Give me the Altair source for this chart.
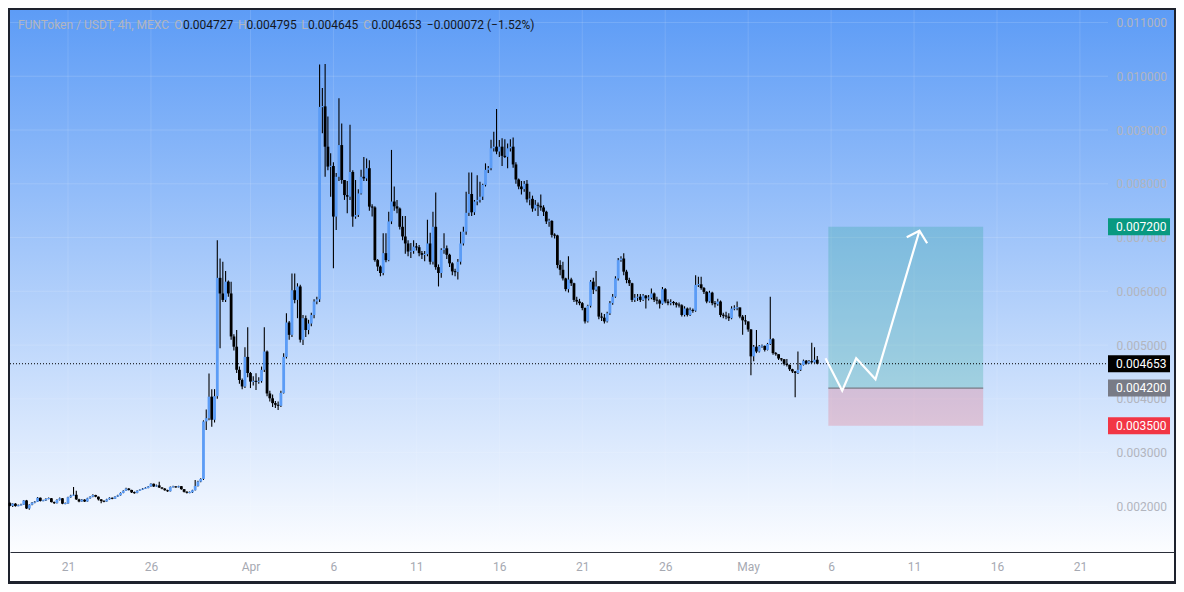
import altair as alt
import pandas as pd

# ---------------- data (prices in millionths of USDT) ----------------
OPEN0 = 2060
CLOSE = [
    2010, 2050, 2005, 2020, 2030, 2110, 1960, 2030, 2070, 2085,
    2160, 2100, 2110, 2140, 2150, 2080, 2060, 2120, 2150, 2050,
    2055, 2170, 2200, 2215, 2130, 2090, 2125, 2090, 2150, 2180,
    2210, 2180, 2130, 2100, 2090, 2130, 2160, 2140, 2180, 2205,
    2250, 2290, 2330, 2305, 2260, 2250, 2290, 2310, 2330, 2340,
    2370, 2420, 2370, 2390, 2350, 2330, 2300, 2280, 2360, 2370,
    2355, 2375, 2320, 2270, 2255, 2260, 2300, 2380, 2460, 2510,
    3580, 3640, 4040, 3610, 4050, 6250, 5960, 5840, 6180, 5960,
    5160, 4970, 4540, 4350, 4230, 4780, 4480, 4320, 4330, 4320,
    4330, 4540, 4880, 4100, 4010, 3920, 3890, 3870, 4110, 4780,
    5420, 5190, 6020, 5840, 6090, 5100, 5500, 5280, 5400, 5560,
    5810, 5850, 9430, 9440, 8690, 8320, 8330, 7390, 8130, 8720,
    8070, 7790, 7760, 8220, 7390, 7420, 7820, 8130, 8100, 8290,
    7575, 7560, 6580, 6460, 6340, 6710, 6580, 7300, 7670, 7580,
    7540, 7200, 7020, 6890, 6740, 6750, 6830, 6820, 6710, 6680,
    6690, 6890, 6550, 7200, 6450, 6340, 6770, 6800, 6680, 6520,
    6370, 6360, 6550, 6890, 7110, 7460, 7810, 7470, 7670, 7700,
    7760, 7980, 8260, 8290, 8660, 8690, 8600, 8690, 8520, 8500,
    8660, 8690, 8360, 8080, 7950, 7900, 8000, 7710, 7720, 7540,
    7610, 7590, 7560, 7480, 7300, 7310, 7050, 7040, 6490, 6400,
    6240, 6040, 6220, 6150, 5840, 5810, 5780, 5690, 5440, 5730,
    6180, 6030, 6090, 5530, 5510, 5440, 5590, 5780, 5900, 6240,
    6580, 6610, 6366, 6210, 6150, 5840, 5880, 5900, 5840, 5920,
    5870, 5880, 5960, 5840, 5830, 5770, 6040, 5810, 5780, 5800,
    5780, 5750, 5740, 5560, 5680, 5560, 5650, 5640, 6120, 6130,
    6060, 5990, 5810, 5975, 5780, 5760, 5810, 5560, 5550, 5530,
    5500, 5680, 5690, 5700, 5530, 5460, 5440, 5290, 4790, 4970,
    4880, 4980, 4985, 4910, 5020, 5110, 4850, 4830, 4750, 4735,
    4650, 4630, 4550, 4510, 4480, 4540, 4630, 4710, 4660, 4700,
    4680, 4727, 4653,
]
HIGH = [
    2075, 2060, 2060, 2035, 2050, 2120, 2120, 2040, 2080, 2100,
    2175, 2165, 2125, 2150, 2165, 2155, 2090, 2130, 2165, 2155,
    2070, 2180, 2215, 2360, 2290, 2140, 2135, 2130, 2160, 2190,
    2225, 2215, 2185, 2135, 2110, 2140, 2170, 2165, 2190, 2215,
    2260, 2300, 2345, 2340, 2310, 2275, 2300, 2320, 2340, 2355,
    2380, 2430, 2425, 2405, 2460, 2360, 2340, 2310, 2370, 2385,
    2375, 2385, 2380, 2325, 2280, 2275, 2310, 2490, 2475, 2525,
    3600, 3800, 4470, 4180, 4180, 6950, 6610, 6550, 6380, 6200,
    6180, 5200, 5280, 4600, 4380, 4960, 5330, 4500, 4420, 4475,
    4400, 4600, 5330, 4900, 4150, 4080, 3960, 3950, 4150, 4850,
    5590, 5450, 6330, 6330, 6150, 6120, 5560, 5550, 5470, 5600,
    5850, 5900, 10220, 9780, 10230, 9250, 8570, 8400, 8200, 9590,
    9120, 8050, 8050, 9100, 8250, 8070, 7900, 8260, 8500, 8470,
    8440, 7620, 7580, 6600, 6480, 7080, 7080, 7480, 8630, 7950,
    7700, 7560, 7400, 7400, 6950, 6900, 6950, 6900, 6860, 6750,
    6750, 7330, 7090, 7480, 7840, 6500, 6800, 7080, 6850, 6700,
    6540, 6420, 6600, 7110, 7200, 7850, 8210, 8210, 7700, 8160,
    8040, 8000, 8380, 8330, 8820, 8970, 9390, 8815, 8845, 8830,
    8750, 8830, 8860, 8400, 8100, 8050, 8050, 8070, 7850, 7780,
    7700, 7650, 7800, 7600, 7500, 7350, 7320, 7080, 7050, 6580,
    6550, 6250, 6650, 6250, 6160, 5900, 5860, 5800, 5700, 5750,
    6210, 6250, 6380, 6100, 5600, 5580, 5620, 5820, 5950, 6280,
    6620, 6650, 6710, 6400, 6250, 6160, 5950, 5950, 5950, 5950,
    5930, 5930, 6050, 5980, 5900, 5850, 6080, 6060, 5850, 5850,
    5820, 5800, 5790, 5760, 5720, 5700, 5700, 5680, 6300, 6270,
    6270, 6080, 6000, 6010, 5990, 5820, 5860, 5830, 5600, 5620,
    5590, 5720, 5740, 5810, 5700, 5560, 5560, 5440, 5300, 5000,
    5280, 5000, 5010, 4990, 5040, 5900, 5130, 4870, 4830, 4760,
    4740, 4740, 4640, 4560, 4520, 4880, 4660, 4730, 4720, 4720,
    5045, 4960, 4795,
]
LOW = [
    2000, 1990, 1995, 2000, 2015, 2025, 1950, 1935, 2020, 2060,
    2080, 2090, 2095, 2100, 2130, 2070, 2045, 2055, 2110, 2040,
    2040, 2050, 2160, 2195, 2120, 2075, 2085, 2080, 2085, 2140,
    2170, 2170, 2110, 2060, 2075, 2085, 2125, 2130, 2135, 2175,
    2200, 2245, 2285, 2295, 2250, 2235, 2245, 2285, 2305, 2325,
    2335, 2365, 2360, 2365, 2340, 2320, 2290, 2270, 2275, 2350,
    2345, 2350, 2310, 2260, 2240, 2245, 2250, 2295, 2370, 2450,
    2490, 3420, 3600, 3480, 3560, 4000, 4940, 5800, 5800, 5900,
    5100, 4900, 4480, 4280, 4180, 4200, 4400, 4200, 4250, 4165,
    4280, 4300, 4500, 4050, 3950, 3850, 3830, 3790, 3850, 4100,
    4750, 5100, 5150, 5780, 5500, 5050, 5000, 5150, 5200, 5350,
    5500, 5760, 5800, 8940, 8130, 8250, 7760, 6430, 7140, 8050,
    8000, 7700, 7450, 7700, 7200, 7350, 7380, 7800, 8050, 8050,
    7500, 7390, 6550, 6380, 6280, 6300, 6540, 6560, 7250, 7500,
    7450, 7150, 6950, 6700, 6650, 6620, 6700, 6760, 6650, 6600,
    6560, 6650, 6500, 6500, 6400, 6090, 6250, 6700, 6600, 6450,
    6300, 6280, 6220, 6500, 6850, 7050, 7400, 7400, 7420, 7600,
    7650, 7700, 7950, 8200, 8250, 8600, 8550, 8500, 8330, 8480,
    8290, 8600, 8300, 8000, 7900, 7800, 7850, 7650, 7600, 7480,
    7500, 7400, 7500, 7400, 7250, 7200, 7000, 6980, 6430, 6300,
    6200, 6000, 5980, 6100, 5800, 5750, 5740, 5650, 5400, 5420,
    5700, 5950, 6000, 5480, 5450, 5400, 5420, 5560, 5750, 5880,
    6200, 6550, 6300, 6150, 6100, 5800, 5800, 5820, 5800, 5820,
    5680, 5830, 5850, 5800, 5760, 5680, 5750, 5780, 5740, 5740,
    5740, 5700, 5700, 5530, 5530, 5530, 5540, 5600, 5620, 6080,
    6030, 5950, 5780, 5790, 5740, 5700, 5730, 5520, 5500, 5480,
    5450, 5480, 5650, 5650, 5500, 5190, 5380, 5250, 4440, 4700,
    4850, 4860, 4950, 4880, 4900, 5000, 4820, 4800, 4720, 4700,
    4620, 4600, 4520, 4480, 4030, 4460, 4520, 4620, 4640, 4650,
    4660, 4670, 4645,
]
LAST_BAR = "2025-05-05T04:00:00Z"      # 4h candles, last one
BAR_HOURS = 4

PRICE_TICKS = [0.002, 0.003, 0.004, 0.005, 0.006, 0.007, 0.008, 0.009, 0.010, 0.011]
DAY_TICKS = ["2025-03-21", "2025-03-26", "2025-04-01", "2025-04-06", "2025-04-11",
             "2025-04-16", "2025-04-21", "2025-04-26", "2025-05-01", "2025-05-06",
             "2025-05-11", "2025-05-16", "2025-05-21"]
X_DOMAIN = ["2025-03-17T12:06:00Z", "2025-05-26T16:04:00Z"]
Y_DOMAIN = [0.001151, 0.0112325]

POS_START, POS_END = "2025-05-05T20:00:00Z", "2025-05-15T04:00:00Z"
TARGET, ENTRY, STOP = 0.0072, 0.0042, 0.0035
LAST_PRICE = 0.004653

ARROW_T = ["2025-05-05T15:55:00Z", "2025-05-06T16:03:00Z", "2025-05-07T12:17:00Z",
           "2025-05-08T16:12:00Z", "2025-05-11T07:48:00Z"]
ARROW_P = [0.004754, 0.004151, 0.004754, 0.004364, 0.007127]
HEAD_T = ["2025-05-10T13:26:00Z", "2025-05-11T07:48:00Z", "2025-05-11T18:56:00Z"]
HEAD_P = [0.007005, 0.007127, 0.006893]

TAG_P = [0.0072, 0.004653, 0.0042, 0.0035]
TAG_TXT = ["0.007200", "0.004653", "0.004200", "0.003500"]
TAG_COL = ["#089981", "#000000", "#787b86", "#f23645"]

HEADER = [("FUNToken / USDT, 4h, MEXC", 7.9, "#b2b5be"),
          ("O", 164.3, "#b2b5be"), ("0.004727", 172.9, "#131722"),
          ("H", 227.9, "#b2b5be"), ("0.004795", 236.4, "#131722"),
          ("L", 291.2, "#b2b5be"), ("0.004645", 297.9, "#131722"),
          ("C", 353.3, "#b2b5be"), ("0.004653", 361.4, "#131722"),
          ("\u22120.000072 (\u22121.52%)", 416.8, "#131722")]

UP_COL, DOWN_COL = "#5b9cf6", "#000000"
FONT = "Roboto"
W, H = 1164, 542


def ms(s):
    return int(pd.Timestamp(s).value // 10**6)


# ---------------- tables ----------------
n = len(CLOSE)
end_ms = ms(LAST_BAR)
step = BAR_HOURS * 3600 * 1000
opens = [OPEN0] + CLOSE[:-1]
rows = []
for i in range(n):
    o, c = opens[i], CLOSE[i]
    hi_b, lo_b = max(o, c), min(o, c)
    if hi_b - lo_b < 20:
        mid = (hi_b + lo_b) / 2
        hi_b, lo_b = mid + 10, mid - 10
    rows.append({
        "t": end_ms - (n - 1 - i) * step,
        "o": o / 1e6, "c": c / 1e6,
        "h": max(HIGH[i], o, c) / 1e6, "l": min(LOW[i], o, c) / 1e6,
        "lo": lo_b / 1e6, "hi": hi_b / 1e6,
        "col": UP_COL if c >= o else DOWN_COL,
    })
candles = pd.DataFrame(rows)

xscale = alt.Scale(type="utc", domain=[ms(d) for d in X_DOMAIN], nice=False)
yscale = alt.Scale(domain=Y_DOMAIN, nice=False, zero=False)
xaxis = alt.Axis(values=[ms(d) for d in DAY_TICKS],
                 labelExpr="utcdate(datum.value) == 1 ? utcFormat(datum.value, '%b') : utcFormat(datum.value, '%-d')",
                 ticks=False, grid=False, domainColor="#2a2e39", domainWidth=1,
                 labelColor="#a6a9b2", labelFont=FONT, labelFontSize=12, labelPadding=9,
                 labelFlush=False, labelOverlap=False, title=None, zindex=1)
yaxis = alt.Axis(values=PRICE_TICKS, format=".6f", orient="right", offset=-66,
                 ticks=False, domain=False, grid=False, labelColor="#b2b5be",
                 labelFont=FONT, labelFontSize=12, labelPadding=8, labelFlush=False,
                 title=None, zindex=0)


def X(f):
    return alt.X(f, type="temporal", scale=xscale, axis=xaxis)


def Y(f):
    return alt.Y(f, type="quantitative", scale=yscale, axis=yaxis)


one = pd.DataFrame({"a": [0]})
layers = []

# time-axis strip (white)
layers.append(alt.Chart(one).mark_rect(color="#ffffff").encode(
    x=alt.value(0), x2=alt.value(W), y=alt.value(H), y2=alt.value(H + 29)))

# grid
layers.append(alt.Chart(pd.DataFrame({"p": PRICE_TICKS})).mark_rule(
    color="#ffffff", opacity=0.14, strokeWidth=1).encode(
    y=Y("p"), x=alt.value(0), x2=alt.value(1098)))
layers.append(alt.Chart(pd.DataFrame({"d": [ms(d) for d in DAY_TICKS]})).mark_rule(
    color="#ffffff", opacity=0.12, strokeWidth=1).encode(
    x=X("d"), y=alt.value(0), y2=alt.value(H)))

# long-position tool
pos = pd.DataFrame({"t0": [ms(POS_START)] * 2, "t1": [ms(POS_END)] * 2,
                    "p0": [ENTRY, STOP], "p1": [TARGET, ENTRY],
                    "col": ["#089981", "#f23645"], "op": [0.22, 0.2]})
layers.append(alt.Chart(pos).mark_rect().encode(
    x=X("t0"), x2="t1", y=Y("p0"), y2="p1",
    color=alt.Color("col:N", scale=None),
    opacity=alt.Opacity("op:Q", scale=None)))
layers.append(alt.Chart(pd.DataFrame({"t0": [ms(POS_START)], "t1": [ms(POS_END)], "p": [ENTRY]}))
              .mark_rule(color="#787b86", strokeWidth=1.2).encode(x=X("t0"), x2="t1", y=Y("p")))

# last price dotted line
layers.append(alt.Chart(pd.DataFrame({"p": [LAST_PRICE]})).mark_rule(
    color="#000000", strokeWidth=1, strokeDash=[1, 2]).encode(
    y=Y("p"), x=alt.value(0), x2=alt.value(1098)))

# candles
layers.append(alt.Chart(candles).mark_rule(color="#000000", strokeWidth=1.1).encode(
    x=X("t"), y=Y("l"), y2="h"))
layers.append(alt.Chart(candles).mark_rule(strokeWidth=2.8).encode(
    x=X("t"), y=Y("lo"), y2="hi", color=alt.Color("col:N", scale=None)))

# arrow
arrow = pd.DataFrame({
    "t": [ms(t) for t in ARROW_T] + [ms(t) for t in HEAD_T],
    "p": ARROW_P + HEAD_P,
    "k": list(range(len(ARROW_T))) + list(range(len(HEAD_T))),
    "g": ["path"] * len(ARROW_T) + ["head"] * len(HEAD_T),
})
layers.append(alt.Chart(arrow).mark_line(color="#ffffff", strokeWidth=2.2, strokeJoin="miter").encode(
    x=X("t"), y=Y("p"), order="k:Q", detail="g:N"))

# price tags
tags = pd.DataFrame({"p": TAG_P, "txt": TAG_TXT, "col": TAG_COL})
layers.append(alt.Chart(tags).mark_tick(orient="horizontal", thickness=17, size=62, opacity=1).encode(
    y=Y("p"), x=alt.value(1129), color=alt.Color("col:N", scale=None)))
layers.append(alt.Chart(tags).mark_text(align="left", baseline="middle", color="#ffffff",
                                        font=FONT, fontSize=12).encode(
    y=Y("p"), x=alt.value(1106), text="txt:N"))

# header legend
for txt, px, col in HEADER:
    layers.append(alt.Chart(one).mark_text(text=txt, align="left", baseline="middle",
                                           color=col, font=FONT, fontSize=12).encode(
        x=alt.value(px), y=alt.value(14.5)))

bg = ("{gradient: 'linear', x1: 0, y1: 0, x2: 0, y2: 1, "
      "stops: [{offset: 0, color: '#5d9cf6'}, {offset: 1, color: '#fcfdff'}]}")

# svg = 1168 x 576 so the page (8px margins) fits the 1184 x 592 window without scrollbars
chart = alt.layer(*layers).properties(
    width=W, height=H, background="#1e222d",
    padding={"left": 2, "top": 2, "right": 2, "bottom": 32},
    autosize=alt.AutoSizeParams(type="none"),
).configure_view(strokeWidth=0, fill={"expr": bg})

chart.save("out.html", embed_options={"renderer": "svg", "actions": False})
